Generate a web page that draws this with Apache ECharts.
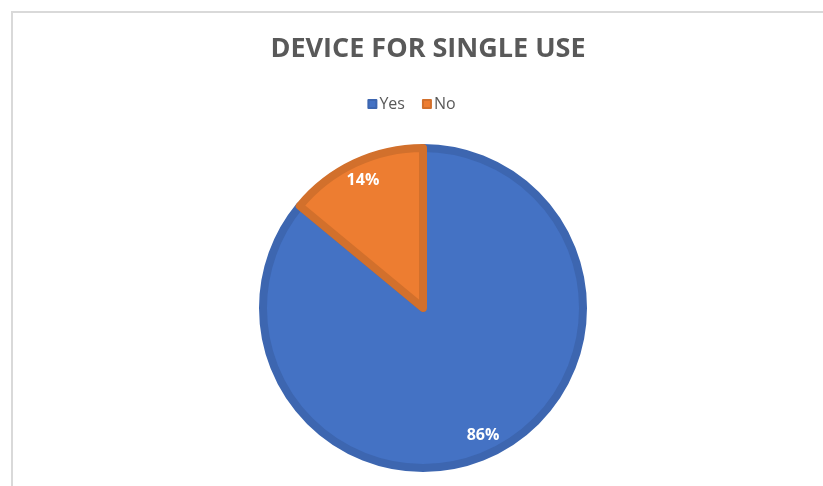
<!DOCTYPE html>
<html>
<head>
<meta charset="utf-8">
<script src="https://cdn.jsdelivr.net/npm/echarts@6/dist/echarts.min.js"></script>
<style>
  html, body { margin: 0; padding: 0; background: #fff; }
  #chart { width: 823px; height: 486px; }
</style>
</head>
<body>
<div id="chart"></div>
<script>
var categories = ['Yes', 'No'];
var shares = [86, 14];
var fillColors = ['#4472C4', '#ED7D31'];
var edgeColors = ['#3D66B0', '#D2702C'];

var pieData = [];
for (var i = 0; i < categories.length; i++) {
	pieData.push({
		name: categories[i],
		value: shares[i],
		itemStyle: { color: fillColors[i], borderColor: edgeColors[i] }
	});
}

var myChart = echarts.init(document.getElementById('chart'));

var option = {
	backgroundColor: '#fff',
	animation: false,
	title: {
		text: 'DEVICE FOR SINGLE USE',
		left: 423,
		textAlign: 'center',
		top: 31,
		textStyle: {
			fontFamily: 'Open Sans',
			fontSize: 27,
			fontWeight: 'bold',
			color: '#595959'
		}
	},
	legend: {
		data: categories,
		top: 91,
		left: 'center',
		itemWidth: 8,
		itemHeight: 8,
		itemGap: 17,
		icon: 'rect',
		textStyle: { fontFamily: 'Open Sans', fontSize: 16, color: '#595959', padding: [0, 0, 0, -2] }
	},
	graphic: [
		{ type: 'line', shape: { x1: 12, y1: 12, x2: 823, y2: 12 }, style: { stroke: '#d9d9d9', lineWidth: 2 } },
		{ type: 'line', shape: { x1: 12, y1: 11, x2: 12, y2: 486 }, style: { stroke: '#d9d9d9', lineWidth: 2 } }
	],
	series: [
		{
			type: 'pie',
			center: [423, 308],
			radius: [0, 160],
			startAngle: 90,
			clockwise: true,
			label: { show: false },
			labelLine: { show: false },
			itemStyle: { borderWidth: 8 },
			emphasis: { disabled: true },
			data: pieData
		},
		{
			// invisible ring only used to place the percentage labels
			type: 'pie',
			center: [423, 308],
			radius: [116, 160],
			startAngle: 90,
			clockwise: true,
			silent: true,
			legendHoverLink: false,
			itemStyle: { color: 'rgba(0,0,0,0)', borderWidth: 0 },
			label: {
				show: true,
				position: 'inside',
				formatter: '{d}%',
				fontFamily: 'Open Sans',
				fontSize: 16,
				fontWeight: 'bold',
				color: '#fff'
			},
			labelLine: { show: false },
			emphasis: { disabled: true },
			data: categories.map(function(c, i) { return { name: c, value: shares[i] }; })
		}
	]
};

myChart.setOption(option);
</script>
</body>
</html>
